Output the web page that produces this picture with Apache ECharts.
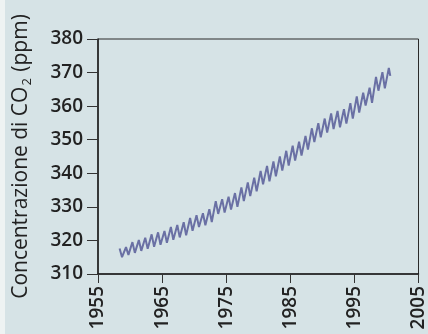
<!DOCTYPE html>
<html>
<head>
<meta charset="utf-8">
<script src="https://cdn.jsdelivr.net/npm/echarts@6/dist/echarts.min.js"></script>
<style>
html,body{margin:0;padding:0;background:#d6e3e6;}
#c{width:428px;height:334px;}
</style>
</head>
<body>
<div id="c"></div>
<script>
// Years of record (seasonal cycle)
var years = [1958,1959,1960,1961,1962,1963,1964,1965,1966,1967,1968,1969,1970,1971,1972,1973,1974,1975,1976,1977,1978,1979,1980,1981,1982,1983,1984,1985,1986,1987,1988,1989,1990,1991,1992,1993,1994,1995,1996,1997,1998,1999,2000];
// Spring maxima, ppm
var springPeak = [317.6,318.0,319.5,320.1,320.8,321.8,322.4,322.8,324.0,324.6,325.4,326.7,327.5,328.1,329.3,331.7,332.3,333.0,334.1,335.8,337.3,338.7,340.7,342.2,343.5,345.0,346.7,348.2,349.4,351.1,353.4,354.9,356.3,357.8,358.6,359.1,360.9,362.9,364.0,365.5,368.7,370.1,371.4];
// Autumn minima, ppm
var autumnLow = [315.0,315.7,316.3,316.9,317.5,318.1,318.7,319.3,320.2,320.9,321.5,322.9,324.0,324.5,325.5,327.9,328.3,329.2,330.0,331.7,333.2,334.6,336.7,337.6,339.1,340.8,342.3,343.8,345.3,347.1,349.3,350.7,352.1,353.2,353.7,354.8,356.3,358.1,360.2,361.0,364.6,365.3,369.0];
var xTicks = [1955,1965,1975,1985,1995,2005];
var yTicks = [310,320,330,340,350,360,370,380];

var data = [];
for (var i = 0; i < years.length; i++) {
  data.push([years[i] + 0.37, springPeak[i]]);
  data.push([years[i] + (i === years.length - 1 ? 0.6 : 0.75), autumnLow[i]]);
}

var chart = echarts.init(document.getElementById('c'), null, {renderer: 'canvas'});
chart.setOption({
  backgroundColor: '#d6e3e6',
  animation: false,
  graphic: [{type: 'rect', left: 0, top: 0, shape: {width: 5, height: 334}, style: {fill: '#eef3f3'}, z: -1}],
  grid: {left: 98, right: 9, top: 39, bottom: 60, show: true, borderColor: '#2a2a2a', borderWidth: 1, backgroundColor: 'transparent'},
  xAxis: {
    type: 'value', min: xTicks[0], max: xTicks[xTicks.length - 1], interval: 10,
    splitLine: {show: false},
    axisLine: {lineStyle: {color: '#1e1e1e', width: 1.5}},
    axisTick: {length: 9, lineStyle: {color: '#333', width: 1}},
    axisLabel: {rotate: 90, margin: 12, color: '#222', fontFamily: 'Open Sans', fontWeight: 600, fontSize: 19,
      formatter: function (v) { return String(v); }}
  },
  yAxis: {
    type: 'value', min: yTicks[0], max: yTicks[yTicks.length - 1], interval: 10,
    splitLine: {show: false},
    axisLine: {show: true, lineStyle: {color: '#1e1e1e', width: 1.5}},
    axisTick: {show: true, length: 11, lineStyle: {color: '#333', width: 1}},
    axisLabel: {margin: 15, color: '#222', fontFamily: 'Open Sans', fontWeight: 600, fontSize: 19},
    name: '{a|Concentrazione di CO}{s|2}{a| (ppm)}',
    nameLocation: 'middle', nameGap: 64,
    nameTextStyle: {
      color: '#222', fontFamily: 'Open Sans', fontSize: 21,
      rich: {
        a: {fontFamily: 'Open Sans', fontSize: 21, fontWeight: 500, color: '#222', lineHeight: 26},
        s: {fontFamily: 'Open Sans', fontSize: 13, fontWeight: 500, color: '#222', verticalAlign: 'bottom', lineHeight: 17, padding: [0, 1, 0, 1]}
      }
    }
  },
  series: [{
    type: 'line', data: data, showSymbol: false, smooth: false,
    lineStyle: {color: '#6a70a4', width: 2},
    z: 3
  }]
});
</script>
</body>
</html>
